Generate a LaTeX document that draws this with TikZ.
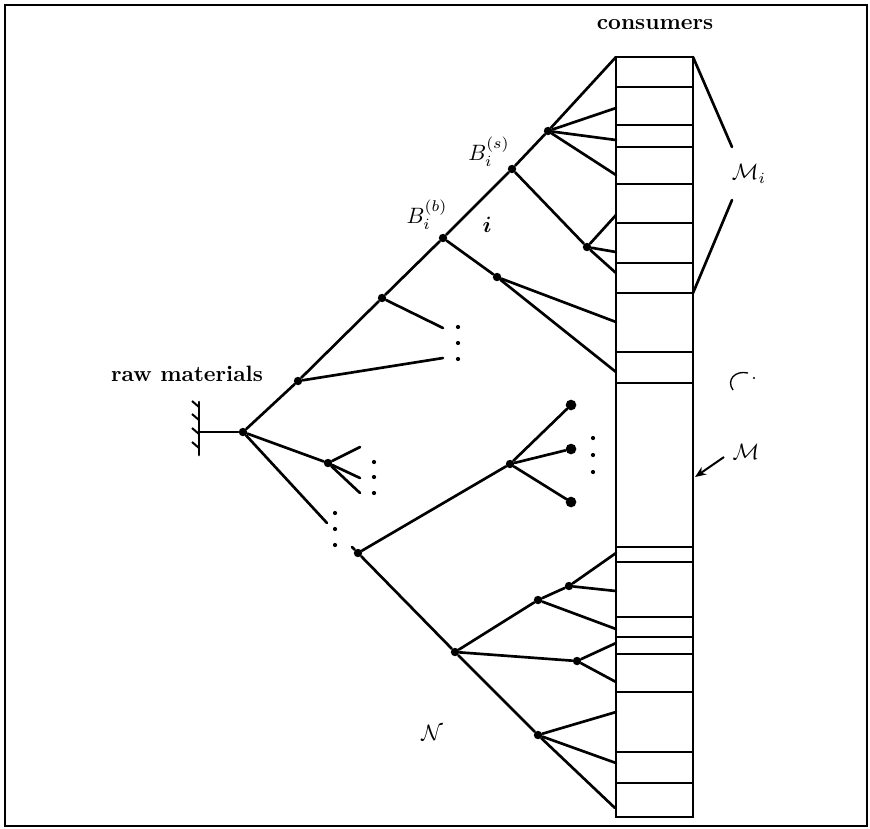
\documentclass[tikz,border=0pt]{standalone}
\usepackage{amsmath,amssymb}
\usepackage{tikz}
\usetikzlibrary{arrows.meta, positioning}

\begin{document}
\begin{tikzpicture}[
    x=0.45pt, y=-0.45pt,
    branch/.style={line width=1.2pt, line cap=round},
    cell/.style={line width=0.8pt},
    column/.style={line width=1.3pt},
    dot/.style={circle, fill=black, inner sep=0pt, minimum size=3.8pt},
    bigdot/.style={circle, fill=black, inner sep=0pt, minimum size=4.8pt},
    tiny/.style={circle, fill=black, inner sep=0pt, minimum size=1.9pt},
    label/.style={font=\bfseries},
    arrow/.style={-{Stealth[length=5pt,width=4pt]}, line width=0.9pt}
]
    \useasboundingbox (0,0) rectangle (870,828);
    \draw[line width=1pt] (5,5) rectangle (867,826);

    % consumer column
    \draw[column] (616,57) rectangle (693,817);
    \foreach \yy in {87,125,147,184,223,263,293,352,383,547,562,617,637,654,692,752,783}
        \draw[cell] (616,\yy) -- (693,\yy);
    \node[label] (cons) at (655,25) {consumers};

    % raw materials
    \node[label] (raw) at (187,374) {raw materials};
    \coordinate (hatch) at (199,432);
    \draw[branch] (199,402) -- (199,455);
    \foreach \yy in {407,420,434,448}
        \draw[line width=0.9pt] (192,\yy-6) -- (199,\yy);
    \node[dot] (R) at (243,432) {};
    \draw[branch] (hatch) -- (R);

    % upper branch
    \node[dot] (A1) at (298,381) {};
    \node[dot] (A2) at (382,298) {};
    \node[dot] (Bb) at (443,238) {};
    \node[dot] (Bs) at (512,169) {};
    \node[dot] (Bt) at (548,131) {};
    \node[dot] (P) at (497,277) {};
    \node[dot] (Q) at (587,247) {};
    \coordinate (top) at (616,57);
    \coordinate (a1end) at (443,358);
    \coordinate (a2end) at (443,328);
    \draw[branch] (R) -- (A1) -- (A2) -- (Bb) -- (Bs) -- (Bt) -- (top);
    \draw[branch] (A1) -- (a1end);
    \draw[branch] (A2) -- (a2end);
    \foreach \yy in {327,343,359}
        \node[tiny] at (458,\yy) {};
    \draw[branch] (Bb) -- (P) -- (616,372);
    \draw[branch] (P) -- (616,322);
    \draw[branch] (Bs) -- (Q) -- (616,273);
    \draw[branch] (Q) -- (616,215);
    \draw[branch] (Q) -- (616,252);
    \draw[branch] (Bt) -- (616,108);
    \draw[branch] (Bt) -- (616,140);
    \draw[branch] (Bt) -- (616,175);

    \node (lbs) at (489,152) {$B_i^{(s)}$};
    \node (lbb) at (427,215) {$B_i^{(b)}$};
    \node (li) at (487,225) {$\boldsymbol{i}$};

    % middle branch
    \node[dot] (F) at (328,463) {};
    \draw[branch] (R) -- (F) -- (360,478);
    \draw[branch] (F) -- (360,447);
    \draw[branch] (F) -- (360,493);
    \foreach \yy in {462,477,493}
        \node[tiny] at (374,\yy) {};

    % lower branch
    \coordinate (gapa) at (327,523);
    \coordinate (gapb) at (352,547);
    \draw[branch] (R) -- (gapa);
    \foreach \yy in {513,529,545}
        \node[tiny] at (335,\yy) {};
    \node[dot] (C) at (358,553) {};
    \node[dot] (D) at (455,652) {};
    \node[dot] (E) at (538,735) {};
    \draw[branch] (gapb) -- (C) -- (D) -- (E) -- (615,808);

    \node[dot] (G) at (510,464) {};
    \node[bigdot] (T1) at (571,405) {};
    \node[bigdot] (T2) at (571,449) {};
    \node[bigdot] (T3) at (571,502) {};
    \draw[branch] (C) -- (G);
    \draw[branch] (G) -- (T1);
    \draw[branch] (G) -- (T2);
    \draw[branch] (G) -- (T3);
    \foreach \yy in {438,455,472}
        \node[tiny] at (593,\yy) {};

    \node[dot] (H) at (538,600) {};
    \node[dot] (I) at (569,586) {};
    \node[dot] (J) at (577,661) {};
    \draw[branch] (D) -- (H) -- (I) -- (616,553);
    \draw[branch] (I) -- (616,591);
    \draw[branch] (H) -- (616,629);
    \draw[branch] (D) -- (J) -- (616,643);
    \draw[branch] (J) -- (616,682);
    \draw[branch] (E) -- (616,712);
    \draw[branch] (E) -- (616,763);

    \node (lN) at (432,733) {$\mathcal{N}$};

    % right side labels
    \node (lMi) at (749,174) {$\mathcal{M}_i$};
    \draw[branch] (693,57) -- (732,147);
    \draw[branch] (732,200) -- (693,293);
    \node (lM) at (746,452) {$\mathcal{M}$};
    \draw[arrow] (724,457) -- (695,477);
    \draw[line width=0.6pt] (748,373) .. controls (735,370) and (726,380) .. (733,390);
    \node[tiny, minimum size=1pt] at (754,378) {};
\end{tikzpicture}
\end{document}
